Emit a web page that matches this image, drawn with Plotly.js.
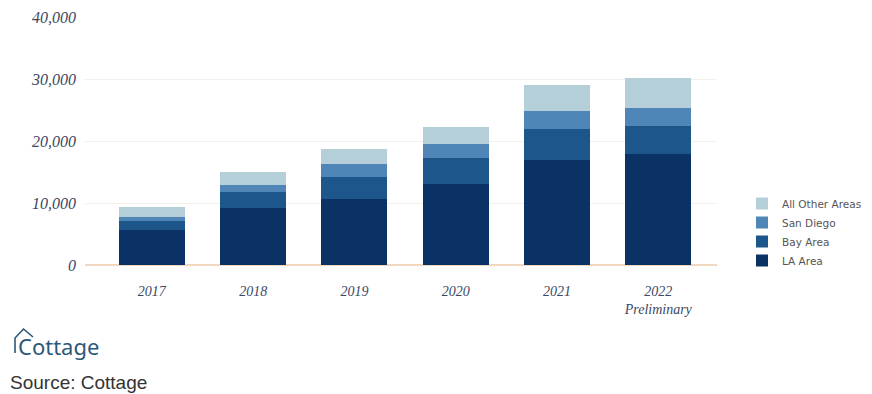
<!DOCTYPE html>
<html>
<head>
<meta charset="utf-8">
<script src="https://cdn.plot.ly/plotly-3.0.1.min.js"></script>
<style>html,body{margin:0;padding:0;background:#fff;}#chart{width:872px;height:394px;}</style>
</head>
<body>
<div id="chart"></div>
<script>
const categories = ["2017", "2018", "2019", "2020", "2021", "2022"];
const tickLabels = ["2017", "2018", "2019", "2020", "2021", "2022<br>Preliminary"];
const laArea = [5700, 9200, 10750, 13100, 17000, 18000];
const bayArea = [1450, 2600, 3400, 4200, 5050, 4550];
const sanDiego = [650, 1100, 2150, 2300, 2800, 2900];
const allOther = [1500, 2100, 2450, 2750, 4250, 4750];
const seriesNames = ["LA Area", "Bay Area", "San Diego", "All Other Areas"];
const seriesColors = ["#0a3264", "#1d568b", "#4f86b7", "#b5cfd8"];
const seriesValues = [laArea, bayArea, sanDiego, allOther];

const L = 85, R = 717, T = 17, B = 265;
const px = x => (x - L) / (R - L);
const py = y => (B - y) / (B - T);

const traces = seriesValues.map((vals, i) => ({
  type: "bar",
  name: seriesNames[i],
  x: categories,
  y: vals,
  marker: {color: seriesColors[i], line: {width: 0}},
  hoverinfo: "x+y+name"
}));

const layout = {
  width: 872, height: 394,
  margin: {l: L, r: 872 - R, t: T, b: 394 - B, autoexpand: false},
  paper_bgcolor: "#ffffff", plot_bgcolor: "#ffffff",
  barmode: "stack",
  bargap: 0.35,
  showlegend: true,
  legend: {
    traceorder: "reversed",
    x: px(742), xanchor: "left",
    y: py(189), yanchor: "top",
    font: {family: "DejaVu Sans, Liberation Sans, sans-serif", size: 10.5, color: "#555555"},
    itemwidth: 30, tracegroupgap: 0,
    bgcolor: "rgba(0,0,0,0)"
  },
  xaxis: {
    type: "category",
    range: [-0.66, 5.58],
    tickvals: categories, ticktext: tickLabels,
    tickfont: {family: "Liberation Serif, Georgia, serif", size: 14, color: "#3a4862", style: "italic"},
    showgrid: false, zeroline: false, showline: false, ticks: "",
    ticklabelstandoff: 16
  },
  yaxis: {
    range: [0, 40100],
    tickvals: [0, 10000, 20000, 30000, 40000],
    tickformat: ",",
    tickfont: {family: "Liberation Serif, Georgia, serif", size: 16, color: "#3a4862", style: "italic"},
    showgrid: true, gridcolor: "#f3efea", gridwidth: 1,
    zeroline: true, zerolinecolor: "#f1d7bd", zerolinewidth: 1.5,
    showline: false, ticks: "",
    ticklabelstandoff: 8
  },
  shapes: [
    {type: "path", xref: "paper", yref: "paper",
     path: `M ${px(15)} ${py(353)} L ${px(15)} ${py(338)} L ${px(23.5)} ${py(329)} L ${px(33)} ${py(337)}`,
     line: {color: "#2e5878", width: 1.6}}
  ],
  annotations: [
    {xref: "paper", yref: "paper", x: px(16), y: py(346), xanchor: "left", yanchor: "middle",
     text: "Cottage", showarrow: false,
     font: {family: "Noto Sans, Liberation Sans, sans-serif", size: 22, color: "#2e5878"}},
    {xref: "paper", yref: "paper", x: px(8), y: py(382), xanchor: "left", yanchor: "middle",
     text: "Source: Cottage", showarrow: false,
     font: {family: "Liberation Sans, Arial, sans-serif", size: 19, color: "#333333"}}
  ]
};

Plotly.newPlot("chart", traces, layout, {displayModeBar: false, staticPlot: true});
</script>
</body>
</html>
